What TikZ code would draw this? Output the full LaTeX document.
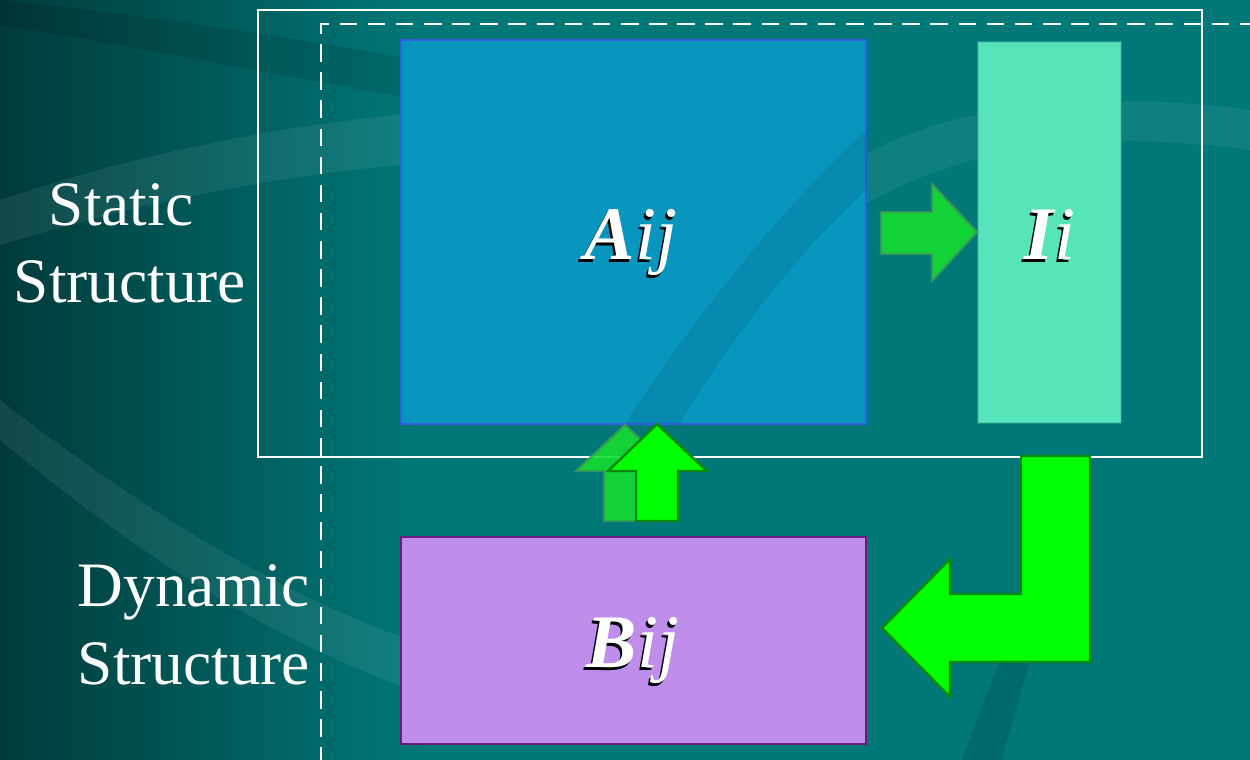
\documentclass[tikz,border=0pt]{standalone}
\usepackage{fontspec}
\setmainfont{Liberation Serif}
\usetikzlibrary{calc}

\definecolor{seaDeep}{HTML}{003A3A}
\definecolor{seaBase}{HTML}{007878}
\definecolor{aijFill}{HTML}{0896BE}
\definecolor{aijEdge}{HTML}{3060E0}
\definecolor{iiFill}{HTML}{58E4BA}
\definecolor{bijFill}{HTML}{BE8EEA}
\definecolor{bijEdge}{HTML}{6A1A80}
\definecolor{flowGreen}{HTML}{00FF00}
\definecolor{flowEdge}{HTML}{0C8A0C}
\definecolor{ghostGreen}{HTML}{16DC30}
\definecolor{ghostEdge}{HTML}{3A9A58}

\begin{document}
\begin{tikzpicture}[x=0.01cm, y=-0.01cm,
    matrixbox/.style={draw, line width=0.6pt, inner sep=0pt},
    sidelabel/.style={white, font=\fontsize{18}{20}\selectfont, anchor=base},
    symb/.style={font=\fontsize{21.5}{24}\selectfont\itshape, anchor=base},
    flow/.style={fill=flowGreen, draw=flowEdge, line width=0.7pt, line join=miter},
    ghost/.style={fill=ghostGreen, fill opacity=0.9, draw=ghostEdge, draw opacity=0.8, line width=0.7pt}]
  \useasboundingbox (0,0) rectangle (1250,759);
  % sea background
  \fill[seaBase] (-5,-5) rectangle (1255,765);
  \shade[left color=seaDeep, right color=seaBase] (-5,-5) rectangle (420,765);
  \fill[white, opacity=0.07] (0,200) .. controls (150,150) and (300,120) .. (460,110)
    -- (460,160) .. controls (300,170) and (150,200) .. (0,245) -- cycle;
  \fill[white, opacity=0.07] (0,440) .. controls (120,540) and (260,640) .. (440,700)
    -- (440,650) .. controls (280,600) and (130,500) .. (0,400) -- cycle;
  \fill[white, opacity=0.06] (840,170) .. controls (940,100) and (1100,90) .. (1250,110)
    -- (1250,150) .. controls (1100,130) and (960,140) .. (840,220) -- cycle;
  \fill[black, opacity=0.12] (960,765) -- (1000,660) -- (1030,660) -- (1000,765) -- cycle;
  \fill[black, opacity=0.10] (0,25) .. controls (100,40) and (250,70) .. (420,100)
    -- (420,60) .. controls (250,30) and (100,10) .. (0,0) -- cycle;

  % frames
  \draw[white, line width=0.7pt] (258,10) rectangle (1202,457);
  \coordinate (dashTop) at (321,24);
  \draw[white, line width=0.6pt, dash pattern=on 5pt off 3pt]
    (321,765) -- (dashTop) -- (1255,24);

  % matrices
  \node[matrixbox, fill=aijFill, draw=aijEdge, minimum width=4.65cm, minimum height=3.84cm]
    (A) at (633.5,232) {};
  \fill[black, opacity=0.08] (866,130) .. controls (760,230) and (680,340) .. (625,423)
    -- (680,423) .. controls (730,340) and (800,250) .. (866,190) -- cycle;
  \node[matrixbox, fill=iiFill, draw=iiFill!80!black, draw opacity=0.4,
    minimum width=1.43cm, minimum height=3.81cm] (I) at (1049.5,232.5) {};
  \node[matrixbox, fill=bijFill, draw=bijEdge, minimum width=4.65cm, minimum height=2.07cm]
    (B) at (633.5,640.5) {};

  % symbols
  \node[symb, black] at ($(631,259)+(-2,3)$) {\textbf{A}ij};
  \node[symb, white] (Atxt) at (631,259) {\textbf{A}ij};
  \node[symb, black] at ($(1050,259)+(-2,3)$) {\textbf{I}i};
  \node[symb, white] (Itxt) at (1050,259) {\textbf{I}i};
  \node[symb, black] at ($(633,667)+(-2,3)$) {\textbf{B}ij};
  \node[symb, white] (Btxt) at (633,667) {\textbf{B}ij};

  % side labels
  \node[sidelabel] (st1) at (121,225) {Static};
  \node[sidelabel] (st2) at (130,302) {Structure};
  \node[sidelabel] (dy1) at (194,606) {Dynamic};
  \node[sidelabel] (dy2) at (194,684) {Structure};

  % block arrows
  \draw[ghost] (881,212) -- (932,212) -- (932,184) -- (977,232)
    -- (932,281) -- (932,254) -- (881,254) -- cycle;
  \draw[ghost] (604,521) -- (604,471) -- (576,471) -- (625,425)
    -- (675,471) -- (646,471) -- (646,521) -- cycle;
  \draw[flow] (636,521) -- (636,471) -- (608,471) -- (657,424)
    -- (707,471) -- (678,471) -- (678,521) -- cycle;
  \draw[flow] (1021,456) -- (1090,456) -- (1090,662) -- (950,662) -- (950,697)
    -- (882,628) -- (950,559) -- (950,594) -- (1021,594) -- cycle;
\end{tikzpicture}
\end{document}
